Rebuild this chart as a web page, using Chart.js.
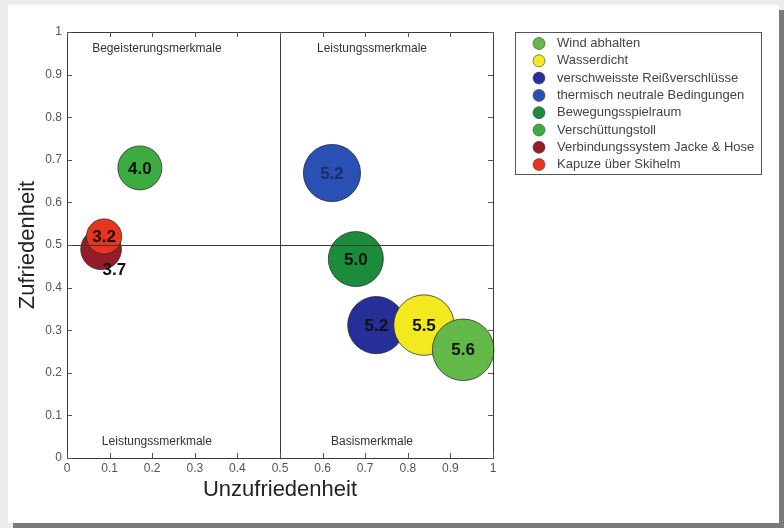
<!DOCTYPE html>
<html>
<head>
<meta charset="utf-8">
<script src="https://cdn.jsdelivr.net/npm/chart.js@4.4.1/dist/chart.umd.min.js"></script>
<style>
  html, body { margin: 0; padding: 0; width: 784px; height: 528px; overflow: hidden; background: #ececec; }
  #card { position: absolute; left: 8px; top: 5px; width: 771px; height: 518px; background: #fff;
          box-shadow: 5px 5px 0 #7a7a7a; }
  #wrap { position: absolute; left: 0; top: 0; width: 784px; height: 528px; }
</style>
</head>
<body>
<div id="card"></div>
<div id="wrap"><canvas id="c" width="784" height="528"></canvas></div>
<script>
const categories = ['Wind abhalten', 'Wasserdicht', 'verschweisste Reißverschlüsse', 'thermisch neutrale Bedingungen',
  'Bewegungsspielraum', 'Verschüttungstoll', 'Verbindungssystem Jacke & Hose', 'Kapuze über Skihelm'];
const unzufriedenheit = [0.930, 0.838, 0.726, 0.622, 0.678, 0.171, 0.080, 0.087];
const zufriedenheit   = [0.254, 0.312, 0.312, 0.669, 0.467, 0.681, 0.490, 0.520];
const scores          = [5.6, 5.5, 5.2, 5.2, 5.0, 4.0, 3.7, 3.2];
const colors = ['#62b947', '#f2ea1e', '#262f98', '#2b50b4', '#1b8b3c', '#3cab40', '#951d2a', '#e8341f'];
const tickLabels = ['0', '0.1', '0.2', '0.3', '0.4', '0.5', '0.6', '0.7', '0.8', '0.9', '1'];
const quadrantLabels = [
  { text: 'Begeisterungsmerkmale', x: 0.211, y: 0.962 },
  { text: 'Leistungssmerkmale', x: 0.716, y: 0.962 },
  { text: 'Leistungssmerkmale', x: 0.211, y: 0.038 },
  { text: 'Basismerkmale', x: 0.716, y: 0.038 }
];
const xTitle = 'Unzufriedenheit';
const yTitle = 'Zufriedenheit';

const datasets = categories.map((name, i) => ({
  label: name,
  data: [{ x: unzufriedenheit[i], y: zufriedenheit[i], r: scores[i] * 5.5 }],
  backgroundColor: colors[i],
  borderColor: 'rgba(40,40,40,0.75)',
  borderWidth: 1,
  order: i === 7 ? -1 : 0,
  scoreLabel: scores[i].toFixed(1),
  labelBelow: i === 6
}));

const overlay = {
  id: 'overlay',
  afterDatasetsDraw(chart) {
    const ctx = chart.ctx;
    const xs = chart.scales.x, ys = chart.scales.y;
    const a = chart.chartArea;
    ctx.save();
    ctx.strokeStyle = '#3a3a3a';
    ctx.lineWidth = 1;
    ctx.strokeRect(Math.round(a.left) + 0.5, Math.round(a.top) + 0.5, Math.round(a.right - a.left), Math.round(a.bottom - a.top));
    const cx = Math.round(xs.getPixelForValue(0.5)) + 0.5;
    const cy = Math.round(ys.getPixelForValue(0.5)) + 0.5;
    ctx.beginPath();
    ctx.moveTo(cx, a.top); ctx.lineTo(cx, a.bottom);
    ctx.moveTo(a.left, cy); ctx.lineTo(a.right, cy);
    ctx.stroke();
    ctx.strokeStyle = '#555';
    ctx.beginPath();
    xs.ticks.forEach(t => {
      const px = Math.round(xs.getPixelForValue(t.value)) + 0.5;
      ctx.moveTo(px, a.bottom); ctx.lineTo(px, a.bottom - 5);
      ctx.moveTo(px, a.top); ctx.lineTo(px, a.top + 5);
    });
    ys.ticks.forEach(t => {
      const py = Math.round(ys.getPixelForValue(t.value)) + 0.5;
      ctx.moveTo(a.left, py); ctx.lineTo(a.left + 5, py);
      ctx.moveTo(a.right, py); ctx.lineTo(a.right - 5, py);
    });
    ctx.stroke();
    ctx.fillStyle = '#333';
    ctx.font = '12px "Liberation Sans", Arial, sans-serif';
    ctx.textAlign = 'center';
    ctx.textBaseline = 'middle';
    quadrantLabels.forEach(q => ctx.fillText(q.text, xs.getPixelForValue(q.x), ys.getPixelForValue(q.y)));
    ctx.font = 'bold 17px "Liberation Sans", Arial, sans-serif';
    chart.data.datasets.forEach((ds, i) => {
      const el = chart.getDatasetMeta(i).data[0];
      const r = ds.data[0].r;
      let px = el.x, py = el.y;
      if (ds.labelBelow) { px += r * 0.65; py += r; }
      ctx.fillStyle = i === 3 ? '#1c2a66' : '#111';
      ctx.fillText(ds.scoreLabel, px, py + 1);
    });
    const lx = 515, ly = 32, lw = 246, lh = 142;
    ctx.strokeStyle = '#555';
    ctx.strokeRect(lx + 0.5, ly + 0.5, lw, lh);
    ctx.font = '13px "Liberation Sans", Arial, sans-serif';
    ctx.textAlign = 'left';
    chart.data.datasets.forEach((ds, i) => {
      const yy = 43.5 + i * 17.3;
      ctx.beginPath();
      ctx.arc(539, yy, 6, 0, Math.PI * 2);
      ctx.fillStyle = ds.backgroundColor;
      ctx.fill();
      ctx.strokeStyle = 'rgba(60,60,60,0.6)';
      ctx.stroke();
      ctx.fillStyle = '#444';
      ctx.fillText(ds.label, 557, yy);
    });
    ctx.restore();
  }
};

const tickFont = { family: '"Liberation Sans", Arial, sans-serif', size: 12 };
const tickCb = (v, idx) => tickLabels[idx];

new Chart(document.getElementById('c'), {
  type: 'bubble',
  data: { datasets },
  options: {
    responsive: false,
    animation: false,
    clip: false,
    layout: { padding: { left: 14, top: 32, right: 291, bottom: 22 } },
    plugins: { legend: { display: false }, tooltip: { enabled: false } },
    scales: {
      x: {
        type: 'linear', min: 0, max: 1,
        afterFit: s => { s.height = 48; },
        ticks: { stepSize: 0.1, padding: 3, color: '#555', font: tickFont, callback: tickCb },
        grid: { display: false, drawTicks: false },
        border: { display: true, color: '#3a3a3a' },
        title: { display: true, text: xTitle, color: '#222', padding: { top: 0, bottom: 3 },
                 font: { family: '"Liberation Sans", Arial, sans-serif', size: 22 } }
      },
      y: {
        type: 'linear', min: 0, max: 1,
        afterFit: s => { s.width = 53; },
        ticks: { stepSize: 0.1, padding: 5, color: '#555', font: tickFont, callback: tickCb },
        grid: { display: false, drawTicks: false },
        border: { display: true, color: '#3a3a3a' },
        title: { display: true, text: yTitle, color: '#222', padding: { top: 1, bottom: 0 },
                 font: { family: '"Liberation Sans", Arial, sans-serif', size: 22 } }
      }
    }
  },
  plugins: [overlay]
});
</script>
</body>
</html>
